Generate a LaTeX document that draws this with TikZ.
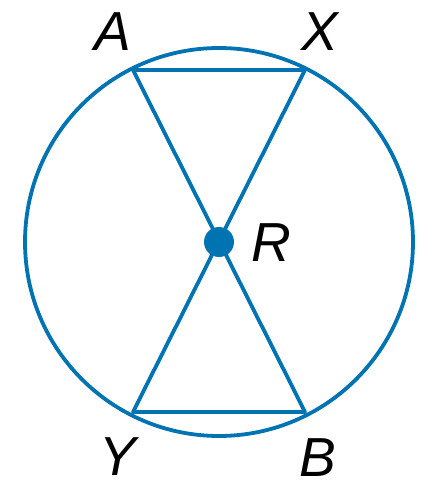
\documentclass[tikz,border=0pt]{standalone}
\usepackage{fontspec}
\setmainfont{Liberation Sans}
\definecolor{geoblue}{RGB}{0,115,178}
\begin{document}
\begin{tikzpicture}[x=1pt,y=1pt,
  geo/.style={draw=geoblue,line width=3.8pt},
  lbl/.style={font=\fontsize{55}{55}\selectfont\itshape,text=black,inner sep=0pt}]
\useasboundingbox (0,0) rectangle (439,488);
\coordinate (O) at (219,246);
\coordinate (A) at (133,418);
\coordinate (X) at (305,418);
\coordinate (Y) at (133,76);
\coordinate (B) at (305,76);
\draw[geo] (O) circle[radius=194];
\draw[geo,line join=round] (A) -- (X) -- (Y) -- (B) -- cycle;
\fill[geoblue] (O) circle[radius=15];
\node[lbl] (lA) at (113,456) {A};
\node[lbl] (lX) at (320,456) {X};
\node[lbl] (lR) at (271,245) {R};
\node[lbl] (lY) at (118,31) {Y};
\node[lbl] (lB) at (318,30) {B};
\end{tikzpicture}
\end{document}
